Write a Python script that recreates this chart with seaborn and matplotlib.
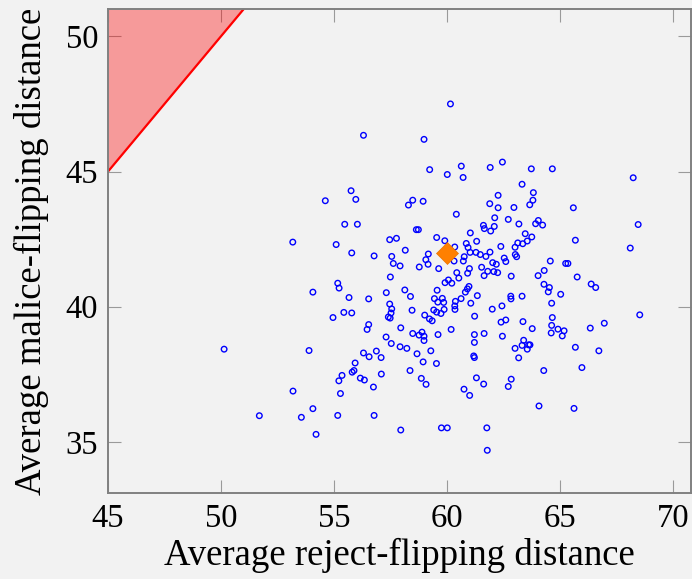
import matplotlib
matplotlib.use("Agg")
import matplotlib.pyplot as plt
import seaborn as sns
import pandas as pd

# ---- data ----
reject_dist = [
    54.62, 53.18, 54.07, 54.96, 50.14, 53.90, 53.19, 54.07, 51.70, 53.56, 54.21,
    60.16, 56.31, 58.99, 59.24, 60.02, 55.76, 55.97, 58.49, 58.30, 58.95,
    55.48, 56.04, 58.65, 58.74, 57.47, 57.77, 59.55, 59.91, 55.10, 55.79,
    56.78, 57.56, 58.16, 59.18, 59.07, 57.63, 57.93, 59.17, 58.78, 59.64,
    57.50, 55.17, 55.23, 59.92, 60.07, 60.22, 57.32, 58.14, 59.57, 55.67,
    56.54, 58.39, 57.47, 59.45, 59.80, 59.60, 59.86, 57.56, 57.53, 55.44,
    55.79, 58.46, 59.42, 59.55, 59.74, 59.88, 57.41, 57.49, 59.02, 59.23,
    59.35, 56.54, 56.47, 57.96, 60.19,
    57.31, 58.49, 58.77, 58.90, 58.99, 58.99, 59.61, 57.54, 57.93, 58.23,
    56.31, 56.88, 56.56, 57.09, 58.68, 59.29, 55.94, 58.95, 59.54, 55.89,
    55.81, 57.10, 58.37, 55.36, 55.22, 56.17, 56.35, 58.87, 59.08, 56.75,
    55.29, 55.17, 56.78, 57.96, 59.76, 60.02,
    60.64, 61.92, 62.46, 63.74, 64.67, 60.72, 63.33, 63.83, 62.27, 63.81,
    61.90, 62.27, 62.97, 63.67,
    60.42, 62.12, 62.72, 61.62, 61.66, 62.10, 61.94, 63.19, 63.93, 64.05,
    64.24, 61.04, 61.32, 63.47, 63.76, 63.56, 63.36, 63.14, 63.02, 62.39,
    60.86, 60.94, 60.35, 61.03, 61.29, 61.48, 61.73, 61.91, 60.77, 60.73,
    60.32, 63.03, 63.09, 62.54, 62.61, 62.03, 62.19, 64.58, 65.26, 65.36,
    61.00, 61.54, 60.44, 60.92, 61.81, 61.65, 62.08, 62.25, 62.85, 64.31,
    64.04, 60.53, 60.98, 60.91, 60.82, 64.30, 64.54, 64.49, 65.04, 61.35,
    60.63, 60.38, 60.35, 60.36, 62.83, 62.84, 63.33, 64.64, 61.06, 62.44,
    62.01, 61.23, 62.61, 62.40, 63.37, 64.67, 64.64, 64.92, 63.78, 65.19,
    61.22, 61.65, 62.46, 64.62, 65.11, 61.22, 63.40, 63.33, 63.62, 63.68,
    63.56, 63.02, 61.19, 61.22, 63.18, 64.29, 61.31, 62.85, 61.63, 62.72,
    60.76, 61.01, 64.08, 61.77, 61.79,
    68.25, 65.60, 68.47, 65.69, 68.12, 65.77, 66.39, 66.59, 68.54, 66.97,
    66.35, 65.69, 66.73, 65.98, 65.63,
]

malice_dist = [
    43.92, 42.39, 40.54, 39.60, 38.43, 38.38, 36.88, 36.23, 35.97, 35.91, 35.28,
    47.50, 46.34, 46.19, 45.07, 44.89, 44.29, 43.97, 43.94, 43.76, 43.90,
    43.05, 43.05, 42.85, 42.85, 42.48, 42.53, 42.56, 42.44, 42.30, 41.99,
    41.88, 41.86, 42.09, 41.95, 41.74, 41.60, 41.51, 41.57, 41.47, 41.41,
    41.10, 40.87, 40.69, 40.89, 40.99, 40.87, 40.52, 40.62, 40.61, 40.34,
    40.29, 40.38, 40.10, 40.30, 40.31, 40.17, 40.16, 39.92, 39.77, 39.79,
    39.77, 39.87, 39.88, 39.80, 39.75, 39.90, 39.62, 39.58, 39.69, 39.55,
    39.48, 39.34, 39.16, 39.22, 39.16,
    38.88, 39.01, 38.95, 39.06, 38.91, 38.75, 38.97, 38.64, 38.52, 38.46,
    38.29, 38.36, 38.15, 38.12, 38.26, 38.37, 37.92, 37.96, 37.90, 37.64,
    37.58, 37.51, 37.64, 37.46, 37.26, 37.36, 37.29, 37.35, 37.13, 37.03,
    36.79, 35.98, 35.98, 35.44, 35.52, 35.52,
    45.20, 45.15, 45.35, 45.10, 45.10, 44.78, 44.53, 44.22, 44.12, 43.94,
    43.81, 43.66, 43.67, 43.77,
    43.42, 43.29, 43.23, 43.01, 42.89, 42.97, 42.80, 43.06, 43.07, 43.19,
    43.02, 42.73, 42.42, 42.70, 42.58, 42.43, 42.33, 42.36, 42.20, 42.23,
    42.34, 42.19, 42.21, 42.01, 42.01, 41.93, 41.86, 42.02, 41.85, 41.69,
    41.69, 41.93, 41.85, 41.80, 41.67, 41.63, 41.57, 41.69, 41.60, 41.60,
    41.41, 41.46, 41.26, 41.24, 41.31, 41.15, 41.30, 41.26, 41.13, 41.34,
    41.15, 41.06, 40.75, 40.66, 40.54, 40.83, 40.71, 40.55, 40.46, 40.41,
    40.30, 40.20, 40.03, 39.90, 40.39, 40.29, 40.39, 40.13, 40.13, 40.03,
    39.91, 39.65, 39.51, 39.43, 39.45, 39.60, 39.31, 39.17, 39.19, 39.11,
    38.97, 39.01, 38.91, 39.03, 38.92, 38.68, 38.76, 38.57, 38.59, 38.59,
    38.43, 38.46, 38.18, 38.12, 38.11, 37.64, 37.37, 37.32, 37.14, 37.05,
    36.95, 36.72, 36.33, 35.52, 34.69,
    44.77, 43.66, 43.04, 42.46, 42.17, 41.10, 40.84, 40.71, 39.70, 39.39,
    39.21, 38.50, 38.37, 37.75, 36.24,
]

highlight_x = [60.0]
highlight_y = [42.0]

# boundary of the shaded region (line y = x)
boundary_x = [45, 51]
boundary_top = 51

x_ticks = [45, 50, 55, 60, 65, 70]
y_ticks = [35, 40, 45, 50]

x_label = "Average reject-flipping distance"
y_label = "Average malice-flipping distance"

# ---- style ----
BG = "#f2f2f2"
sns.set_style("ticks", {"axes.facecolor": BG, "figure.facecolor": BG})
plt.rcParams["font.family"] = ["Liberation Serif", "DejaVu Serif"]
plt.rcParams["text.color"] = "black"
plt.rcParams["axes.labelcolor"] = "black"
plt.rcParams["xtick.labelcolor"] = "black"
plt.rcParams["ytick.labelcolor"] = "black"

fig = plt.figure(figsize=(6.92, 5.79), dpi=100)
fig.patch.set_facecolor(BG)
ax = fig.add_axes([108 / 692, 1 - 493.3 / 579, (690.8 - 108) / 692, (493.3 - 9.3) / 579])
ax.set_facecolor(BG)

# shaded region and its boundary line
ax.fill_between(boundary_x, boundary_x, boundary_top, color="#ff0000", alpha=0.36,
                linewidth=0, zorder=1)
sns.lineplot(x=boundary_x, y=boundary_x, ax=ax, color="#ff0000", linewidth=1.6,
             zorder=2)

df = pd.DataFrame({"reject": reject_dist, "malice": malice_dist})
sns.scatterplot(data=df, x="reject", y="malice", ax=ax, marker="o",
                facecolors="none", edgecolor="#0000ff", linewidth=1.0, s=16,
                zorder=3)

hl = pd.DataFrame({"reject": highlight_x, "malice": highlight_y})
sns.scatterplot(data=hl, x="reject", y="malice", ax=ax, marker="D",
                color="#ff8000", edgecolor="#e87400", linewidth=0.5, s=125,
                zorder=4)

ax.set_xlim(45, 70.8)
ax.set_ylim(33.1, 51.0)
ax.set_xticks(x_ticks)
ax.set_yticks(y_ticks)
ax.tick_params(direction="in", length=9.5, width=0.8, color="#9a9a9a",
               labelsize=23.5, pad=7, top=True, right=True)

for sp in ax.spines.values():
    sp.set_visible(True)
    sp.set_color("#808080")
    sp.set_linewidth(1.4)

ax.set_xlabel(x_label, fontsize=26.5)
ax.set_ylabel(y_label, fontsize=26.5)
ax.xaxis.set_label_coords(0.5, -0.092)
ax.yaxis.set_label_coords(-0.102, 0.5)

fig.savefig("out.png", dpi=100, facecolor=BG)
